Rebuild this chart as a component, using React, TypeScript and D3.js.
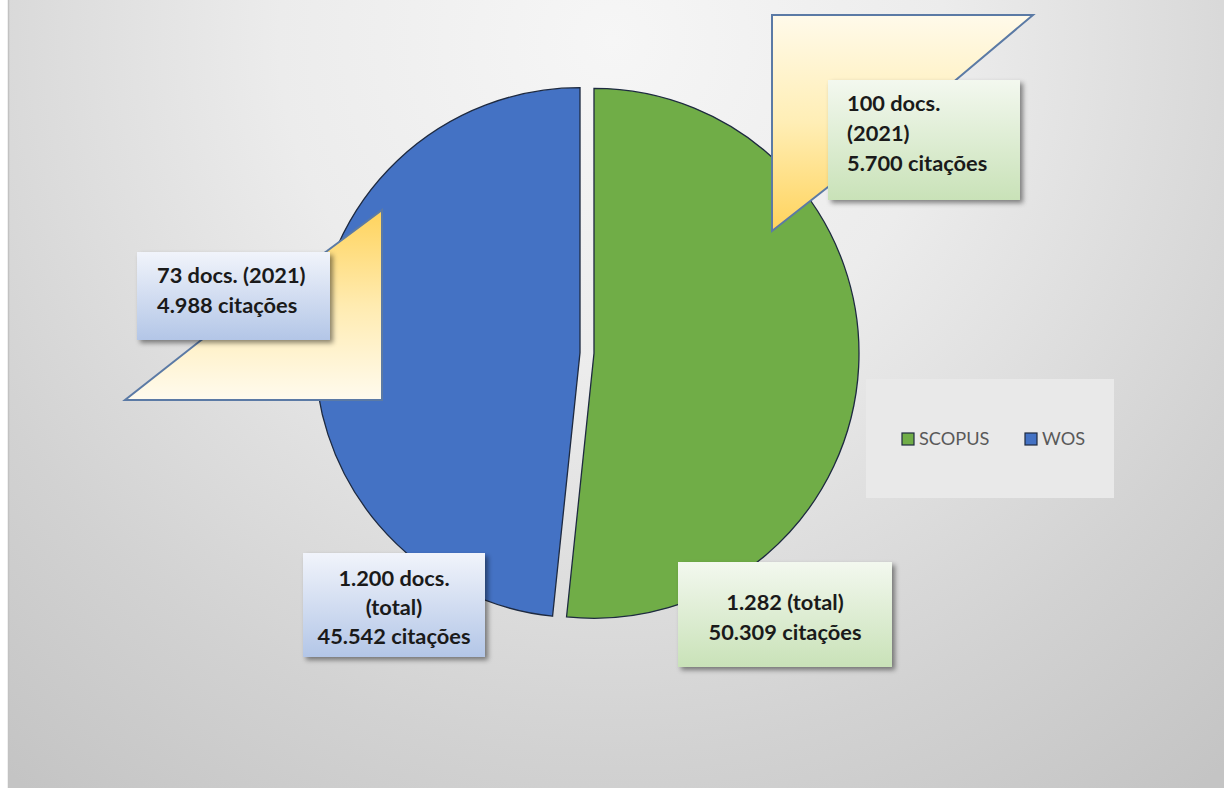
import React from 'react';
import * as d3 from 'd3';

const categories = ['SCOPUS', 'WOS'];
const totalDocs = [1282, 1200];
const colors = ['#70ad47', '#4472c4'];
const totalLabels = [
  ['1.282 (total)', '50.309 citações'],
  ['1.200 docs.', '(total)', '45.542 citações'],
];
const yearLabels = [
  ['100 docs.', '(2021)', '5.700 citações'],
  ['73 docs. (2021)', '4.988 citações'],
];

const W = 1224;
const H = 788;
const cx = 587;
const cy = 353;
const R = 265;
const explode = 7;
const FONT = 'Lato, "Open Sans", sans-serif';
const FS = 21.8;

export default function App() {
  const pie = d3.pie<number>().sort(null).startAngle(0).endAngle(2 * Math.PI)(totalDocs);
  const arc = d3.arc<d3.PieArcDatum<number>>().innerRadius(0).outerRadius(R);

  return (
    <svg width={W} height={H} style={{ position: 'absolute', left: 0, top: 0 }}>
      <defs>
        <radialGradient id="bg" cx="612" cy="40" r="950" gradientUnits="userSpaceOnUse">
          <stop offset="0" stopColor="#f6f6f6" />
          <stop offset="0.35" stopColor="#ececec" />
          <stop offset="0.75" stopColor="#d2d2d2" />
          <stop offset="1" stopColor="#c4c4c4" />
        </radialGradient>
        <linearGradient id="yel1" x1="0" y1="0" x2="0" y2="1">
          <stop offset="0" stopColor="#fffaea" />
          <stop offset="0.5" stopColor="#ffeeb5" />
          <stop offset="1" stopColor="#ffd35c" />
        </linearGradient>
        <linearGradient id="yel2" x1="0" y1="0" x2="0" y2="1">
          <stop offset="0" stopColor="#ffd35c" />
          <stop offset="0.5" stopColor="#ffebb0" />
          <stop offset="1" stopColor="#fffbee" />
        </linearGradient>
        <linearGradient id="gbox" x1="0" y1="0" x2="0" y2="1">
          <stop offset="0" stopColor="#f3f8ef" />
          <stop offset="1" stopColor="#c9e2b8" />
        </linearGradient>
        <linearGradient id="bbox" x1="0" y1="0" x2="0" y2="1">
          <stop offset="0" stopColor="#f1f4fb" />
          <stop offset="1" stopColor="#b3c6e7" />
        </linearGradient>
        <filter id="shadow" x="-20%" y="-20%" width="150%" height="150%">
          <feDropShadow dx="3" dy="3" stdDeviation="2.5" floodColor="#000" floodOpacity="0.45" />
        </filter>
      </defs>
      <rect x={0} y={0} width={W} height={H} fill="#ffffff" />
      <rect x={8} y={0} width={W - 8} height={H} fill="url(#bg)" />
      <line x1={8.5} y1={0} x2={8.5} y2={H} stroke="#c2c2c2" strokeWidth={1.5} />

      {/* legend background */}
      <rect x={866} y={379} width={248} height={119} fill="#e9e9e9" />

      {/* pie */}
      <g>
        {pie.map((d, i) => {
          const mid = (d.startAngle + d.endAngle) / 2;
          const dx = Math.sin(mid) * explode;
          const dy = -Math.cos(mid) * explode;
          return (
            <path
              key={categories[i]}
              d={arc(d) || ''}
              transform={`translate(${cx + dx},${cy + dy})`}
              fill={colors[i]}
              stroke="#1e2a40"
              strokeWidth={1.3}
            />
          );
        })}
      </g>

      {/* top-right callout */}
      <polygon
        points="772,15 1033,15 957,79 828,187 772,231"
        fill="url(#yel1)"
        stroke="#5b7aa5"
        strokeWidth={2}
      />
      <rect x={828} y={80} width={192} height={120} fill="url(#gbox)" filter="url(#shadow)" />
      <text fontFamily={FONT} fontWeight={700} fontSize={FS} fill="#1a1a1a">
        {yearLabels[0].map((t, j) => (
          <tspan key={j} x={847} y={111 + j * 30}>
            {t}
          </tspan>
        ))}
      </text>

      {/* left callout */}
      <polygon
        points="382,210 382,400 125,400 200,341 327,251"
        fill="url(#yel2)"
        stroke="#5b7aa5"
        strokeWidth={2}
      />
      <rect x={137} y={252} width={193} height={88} fill="url(#bbox)" filter="url(#shadow)" />
      <text fontFamily={FONT} fontWeight={700} fontSize={FS} fill="#1a1a1a">
        {yearLabels[1].map((t, j) => (
          <tspan key={j} x={157} y={283 + j * 30}>
            {t}
          </tspan>
        ))}
      </text>

      {/* bottom-left total label (WOS) */}
      <rect x={303} y={553} width={182} height={104} fill="url(#bbox)" filter="url(#shadow)" />
      <text fontFamily={FONT} fontWeight={700} fontSize={FS} fill="#1a1a1a" textAnchor="middle">
        {totalLabels[1].map((t, j) => (
          <tspan key={j} x={394} y={586 + j * 29}>
            {t}
          </tspan>
        ))}
      </text>

      {/* bottom-right total label (SCOPUS) */}
      <rect x={678} y={562} width={214} height={105} fill="url(#gbox)" filter="url(#shadow)" />
      <text fontFamily={FONT} fontWeight={700} fontSize={FS} fill="#1a1a1a" textAnchor="middle">
        {totalLabels[0].map((t, j) => (
          <tspan key={j} x={785} y={610 + j * 30}>
            {t}
          </tspan>
        ))}
      </text>

      {/* legend */}
      {categories.map((c, i) => {
        const lx = i === 0 ? 902 : 1025;
        return (
          <g key={c}>
            <rect x={lx} y={433} width={12} height={12} fill={colors[i]} stroke="#1e2a40" strokeWidth={1.2} />
            <text x={lx + 17} y={445} fontFamily={FONT} fontSize={18.2} fill="#595959">
              {c}
            </text>
          </g>
        );
      })}
    </svg>
  );
}
